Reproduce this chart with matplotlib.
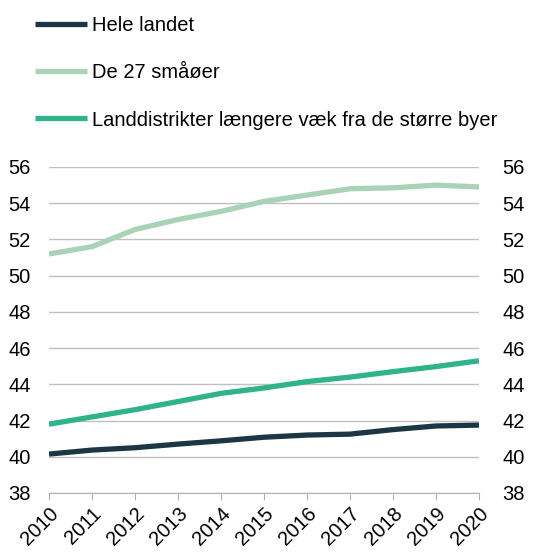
import matplotlib
matplotlib.use("Agg")
import matplotlib.pyplot as plt

plt.rcParams['font.family'] = ['Liberation Sans', 'DejaVu Sans']

years = [2010, 2011, 2012, 2013, 2014, 2015, 2016, 2017, 2018, 2019, 2020]
hele_landet = [40.15, 40.37, 40.5, 40.7, 40.88, 41.08, 41.2, 41.25, 41.5, 41.7, 41.75]
smaaoer = [51.2, 51.6, 52.55, 53.1, 53.55, 54.1, 54.45, 54.8, 54.85, 55.0, 54.9]
landdistrikter = [41.8, 42.2, 42.6, 43.05, 43.5, 43.8, 44.15, 44.4, 44.7, 44.98, 45.3]

labels = ["Hele landet", "De 27 småøer", "Landdistrikter længere væk fra de større byer"]
colors = ["#1b3745", "#a9d2b6", "#2eb38a"]

fig = plt.figure(figsize=(5.49, 5.53), dpi=100)
ax = fig.add_axes([49 / 549, 1 - 493 / 553, 430 / 549, 326 / 553])

for vals, lab, col in zip([hele_landet, smaaoer, landdistrikter], labels, colors):
    ax.plot(years, vals, color=col, linewidth=3.8, label=lab, solid_capstyle='butt')

ax.set_xlim(2010, 2020)
ax.set_ylim(38, 56)
ax.set_yticks(range(38, 57, 2))
ax.set_xticks(years)
ax.set_xticklabels([str(y) for y in years], rotation=45, ha='right',
                   rotation_mode='anchor', fontsize=14.5)
ax.grid(axis='y', color='#c0c0c0', linewidth=1)
ax.set_axisbelow(True)
for s in ['top', 'left', 'right']:
    ax.spines[s].set_visible(False)
ax.spines['bottom'].set_color('#b0b0b0')
ax.tick_params(axis='x', length=5, color='#b0b0b0', pad=3)
ax.tick_params(axis='y', length=0, labelsize=14.5, pad=13)

# right-hand labels (same scale)
ax2 = ax.twinx()
ax2.set_ylim(38, 56)
ax2.set_yticks(range(38, 57, 2))
ax2.tick_params(axis='y', length=0, labelsize=14.5, pad=17)
for s in ax2.spines.values():
    s.set_visible(False)

fig.legend(handles=ax.get_lines(), loc='upper left', bbox_to_anchor=(17 / 549, 1 + 2 / 553),
           frameon=False, fontsize=14.5, handlelength=2.6, handletextpad=0.2, labelspacing=1.4)

fig.savefig("out.png", dpi=100)
